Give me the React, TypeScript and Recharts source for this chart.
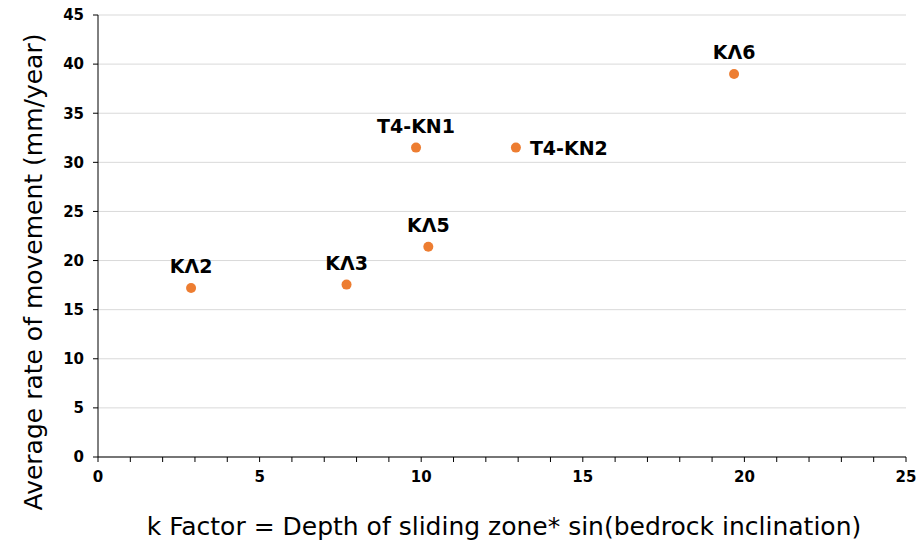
import React from 'react';
import { ScatterChart, Scatter, XAxis, YAxis, CartesianGrid, Label } from 'recharts';

// site names as printed beside each point
const sites = ['ΚΛ2', 'ΚΛ3', 'T4-KN1', 'ΚΛ5', 'T4-KN2', 'ΚΛ6'];
const kFactor = [2.88, 7.69, 9.84, 10.22, 12.93, 19.68];
const movementRate = [17.2, 17.55, 31.5, 21.4, 31.5, 39.0];
const labelSide = ['top', 'top', 'top', 'top', 'right', 'top'];

const xTicks = [0, 1, 2, 3, 4, 5, 6, 7, 8, 9, 10, 11, 12, 13, 14, 15, 16, 17, 18, 19, 20, 21, 22, 23, 24, 25];
const yTicks = [0, 5, 10, 15, 20, 25, 30, 35, 40, 45];

const data = sites.map((name, i) => ({
  name,
  k: kFactor[i],
  rate: movementRate[i],
  side: labelSide[i],
}));

const FONT = 'Verdana, "DejaVu Sans", sans-serif';
const ORANGE = '#ED7D31';

const PointWithLabel = (props: any) => {
  const { cx, cy, payload } = props;
  const right = payload.side === 'right';
  return (
    <g>
      <circle cx={cx} cy={cy} r={5} fill={ORANGE} />
      <text
        x={right ? cx + 14 : cx}
        y={right ? cy + 7 : cy - 15}
        textAnchor={right ? 'start' : 'middle'}
        fontFamily={FONT}
        fontWeight="bold"
        fontSize={19}
        fill="#000"
      >
        {payload.name}
      </text>
    </g>
  );
};

const App: React.FC = () => {
  const tickStyle = { fontFamily: FONT, fontWeight: 'bold' as const, fontSize: 15, fill: '#000' };
  return (
    <div style={{ width: 920, height: 541 }}>
      <style>{'body{margin:0}'}</style>
      <ScatterChart width={920} height={541} margin={{ top: 15, right: 14, bottom: 0, left: 0 }}>
        <CartesianGrid vertical={false} stroke="#d9d9d9" />
        <XAxis
          type="number"
          dataKey="k"
          domain={[0, 25]}
          ticks={xTicks}
          interval={0}
          height={84}
          tickSize={5}
          tickMargin={9}
          tick={tickStyle}
          tickFormatter={(v: number) => (v % 5 === 0 ? String(v) : '')}
          axisLine={{ stroke: '#000' }}
          tickLine={{ stroke: '#000' }}
        >
          <Label
            content={({ viewBox }: any) => (
              <text
                x={viewBox.x + viewBox.width / 2 + 2}
                y={viewBox.y + 78}
                textAnchor="middle"
                fontFamily={FONT}
                fontSize={25}
                fill="#000"
              >
                k Factor = Depth of sliding zone* sin(bedrock inclination)
              </text>
            )}
          />
        </XAxis>
        <YAxis
          type="number"
          dataKey="rate"
          domain={[0, 45]}
          ticks={yTicks}
          interval={0}
          width={98}
          tickSize={5}
          tickMargin={9}
          tick={tickStyle}
          axisLine={{ stroke: '#000' }}
          tickLine={{ stroke: '#000' }}
        >
          <Label
            content={({ viewBox }: any) => {
              const bx = viewBox.x + 42;
              const by = viewBox.y + viewBox.height / 2 + 36;
              return (
                <text
                  x={bx}
                  y={by}
                  transform={`rotate(-90 ${bx} ${by})`}
                  textAnchor="middle"
                  fontFamily={FONT}
                  fontSize={25}
                  fill="#000"
                >
                  Average rate of movement (mm/year)
                </text>
              );
            }}
          />
        </YAxis>
        <Scatter data={data} fill={ORANGE} shape={PointWithLabel} isAnimationActive={false} />
      </ScatterChart>
    </div>
  );
};

export default App;
